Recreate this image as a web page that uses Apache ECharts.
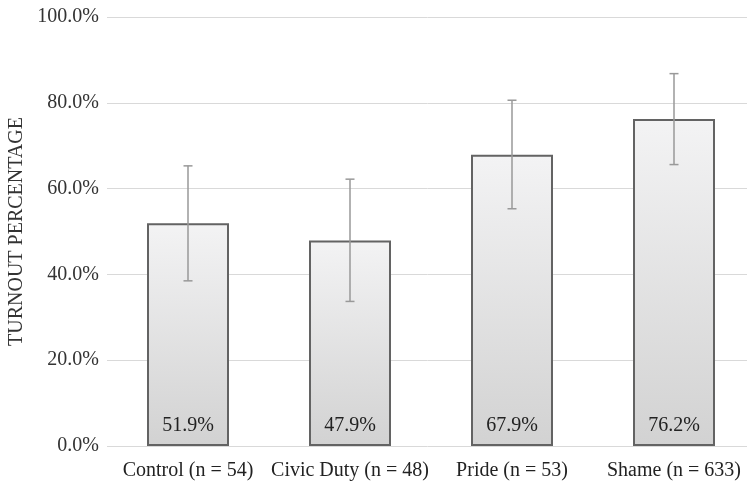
<!DOCTYPE html>
<html><head><meta charset="utf-8">
<script src="https://cdn.jsdelivr.net/npm/echarts@6/dist/echarts.min.js"></script>
<style>html,body{margin:0;padding:0;background:#fff}#c{width:747px;height:486px}</style>
</head><body><div id="c"></div>
<script>
const categories = ['Control (n = 54)', 'Civic Duty (n = 48)', 'Pride (n = 53)', 'Shame (n = 633)'];
const turnout = [51.9, 47.9, 67.9, 76.2];
const errLow = [38.5, 33.7, 55.3, 65.6];
const errHigh = [65.3, 62.2, 80.6, 86.8];
const yTicks = [0, 20, 40, 60, 80, 100];

const chart = echarts.init(document.getElementById('c'), null, {renderer: 'canvas'});
const font = '"Liberation Serif", "Times New Roman", serif';
chart.setOption({
  animation: false,
  grid: {left: 107, width: 648, top: 17, bottom: 40, containLabel: false, outerBoundsMode: 'none'},
  xAxis: {
    type: 'category', data: categories,
    axisLine: {show: false}, axisTick: {show: false},
    axisLabel: {fontFamily: font, fontSize: 20, color: '#222', margin: 15, interval: 0}
  },
  yAxis: {
    type: 'value', min: 0, max: 100, interval: 20,
    name: 'TURNOUT PERCENTAGE', nameLocation: 'middle', nameGap: 77, nameRotate: 90,
    nameTextStyle: {fontFamily: font, fontSize: 20, color: '#333'},
    axisLine: {show: false}, axisTick: {show: false},
    axisLabel: {fontFamily: font, fontSize: 20, color: '#333', margin: 8,
      formatter: v => yTicks.includes(v) ? v.toFixed(1) + '%' : ''},
    splitLine: {lineStyle: {color: '#d9d9d9', width: 1}}
  },
  series: [{
    type: 'bar', data: turnout, barWidth: 82,
    itemStyle: {
      color: new echarts.graphic.LinearGradient(0, 0, 0, 1, [
        {offset: 0, color: '#f3f3f4'}, {offset: 1, color: '#d2d2d2'}]),
      borderColor: '#636363', borderWidth: 2
    },
    label: {show: true, position: 'insideBottom', distance: 10,
      formatter: p => p.value.toFixed(1) + '%',
      fontFamily: font, fontSize: 20, color: '#222'}
  }, {
    type: 'custom',
    data: categories.map((c, i) => [i, errLow[i], errHigh[i]]),
    renderItem: (params, api) => {
      const x = api.coord([api.value(0), 0])[0];
      const lo = api.coord([api.value(0), api.value(1)])[1];
      const hi = api.coord([api.value(0), api.value(2)])[1];
      const w = 4.5;
      const st = {stroke: '#999999', lineWidth: 1.5};
      return {type: 'group', children: [
        {type: 'line', shape: {x1: x, y1: lo, x2: x, y2: hi}, style: st},
        {type: 'line', shape: {x1: x - w, y1: lo, x2: x + w, y2: lo}, style: st},
        {type: 'line', shape: {x1: x - w, y1: hi, x2: x + w, y2: hi}, style: st}
      ]};
    },
    z: 10
  }]
});
</script></body></html>
